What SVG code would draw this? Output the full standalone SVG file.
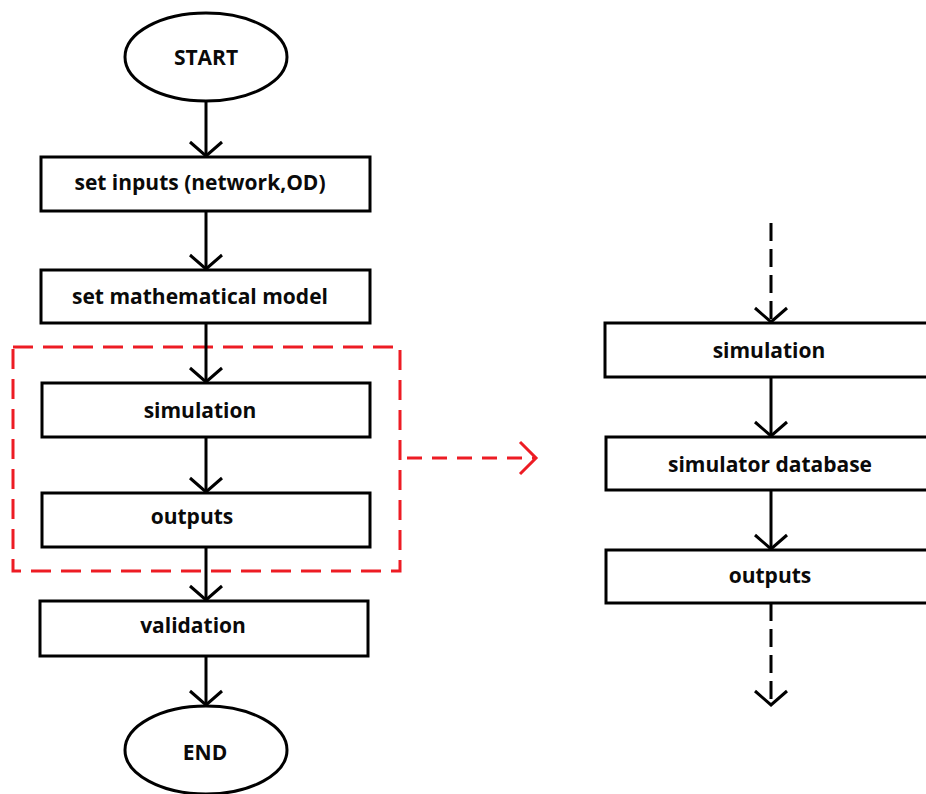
<svg xmlns="http://www.w3.org/2000/svg" width="926" height="794" viewBox="0 0 926 794">
  <style>
    .box { fill: #ffffff; stroke: #000000; stroke-width: 3; }
    .term { fill: #ffffff; stroke: #000000; stroke-width: 3; }
    .lbl { font-family: "Open Sans", "Liberation Sans", sans-serif; font-weight: 700; font-size: 21px; fill: #0a0a0a; text-anchor: middle; }
    .flow { fill: none; stroke: #000000; stroke-width: 3; marker-end: url(#vhead); }
    .flow-dash { fill: none; stroke: #000000; stroke-width: 3; stroke-dasharray: 18 8; marker-end: url(#vhead); }
    .zoom-frame { fill: none; stroke: #ed1c24; stroke-width: 3; stroke-dasharray: 20 10; }
    .zoom-link { fill: none; stroke: #ed1c24; stroke-width: 3; stroke-dasharray: 15 10; marker-end: url(#vhead-red); }
  </style>
  <defs>
    <marker id="vhead" markerUnits="userSpaceOnUse" markerWidth="40" markerHeight="40" viewBox="-20 -20 40 40" refX="0" refY="0" orient="auto" overflow="visible">
      <path d="M-14,-16 L0,0 L-14,16" fill="none" stroke="#000000" stroke-width="3"/>
    </marker>
    <marker id="vhead-red" markerUnits="userSpaceOnUse" markerWidth="40" markerHeight="40" viewBox="-20 -20 40 40" refX="0" refY="0" orient="auto" overflow="visible">
      <path d="M-16,-16 L0,0 L-16,16" fill="none" stroke="#ed1c24" stroke-width="3"/>
    </marker>
  </defs>

  <rect width="926" height="794" fill="#ffffff"/>

  <!-- detail frame around the simulation stage -->
  <rect class="zoom-frame" x="13" y="347" width="387" height="224"/>

  <g id="connectors">
    <line class="flow" x1="206" y1="101" x2="206" y2="156"/>
    <line class="flow" x1="206" y1="211" x2="206" y2="269"/>
    <line class="flow" x1="206" y1="323" x2="206" y2="382"/>
    <line class="flow" x1="206" y1="437" x2="206" y2="492"/>
    <line class="flow" x1="206" y1="547" x2="206" y2="600"/>
    <line class="flow" x1="206" y1="656" x2="206" y2="705"/>
    <line class="zoom-link" x1="407" y1="458" x2="536" y2="458"/>
    <line class="flow-dash" x1="771" y1="223" x2="771" y2="322"/>
    <line class="flow" x1="771" y1="377" x2="771" y2="436"/>
    <line class="flow" x1="771" y1="490" x2="771" y2="549"/>
    <line class="flow-dash" x1="771" y1="603" x2="771" y2="705"/>
  </g>

  <g id="start">
    <ellipse class="term" cx="206" cy="57" rx="81" ry="44"/>
    <text class="lbl" x="206" y="65">START</text>
  </g>
  <g id="set-inputs">
    <rect class="box" x="41" y="157" width="329" height="54"/>
    <text class="lbl" x="200" y="190">set inputs (network,OD)</text>
  </g>
  <g id="set-model">
    <rect class="box" x="41" y="270" width="329" height="53"/>
    <text class="lbl" x="200" y="304">set mathematical model</text>
  </g>
  <g id="simulation">
    <rect class="box" x="42" y="383" width="328" height="54"/>
    <text class="lbl" x="200" y="418">simulation</text>
  </g>
  <g id="outputs">
    <rect class="box" x="42" y="493" width="328" height="54"/>
    <text class="lbl" x="192" y="524">outputs</text>
  </g>
  <g id="validation">
    <rect class="box" x="40" y="601" width="328" height="55"/>
    <text class="lbl" x="193" y="633">validation</text>
  </g>
  <g id="end">
    <ellipse class="term" cx="206" cy="750" rx="81" ry="44"/>
    <text class="lbl" x="205" y="760">END</text>
  </g>

  <g id="detail-simulation">
    <rect class="box" x="605" y="323" width="340" height="54"/>
    <text class="lbl" x="769" y="358">simulation</text>
  </g>
  <g id="detail-database">
    <rect class="box" x="606" y="437" width="340" height="53"/>
    <text class="lbl" x="770" y="472">simulator database</text>
  </g>
  <g id="detail-outputs">
    <rect class="box" x="606" y="550" width="340" height="53"/>
    <text class="lbl" x="770" y="583">outputs</text>
  </g>
</svg>
